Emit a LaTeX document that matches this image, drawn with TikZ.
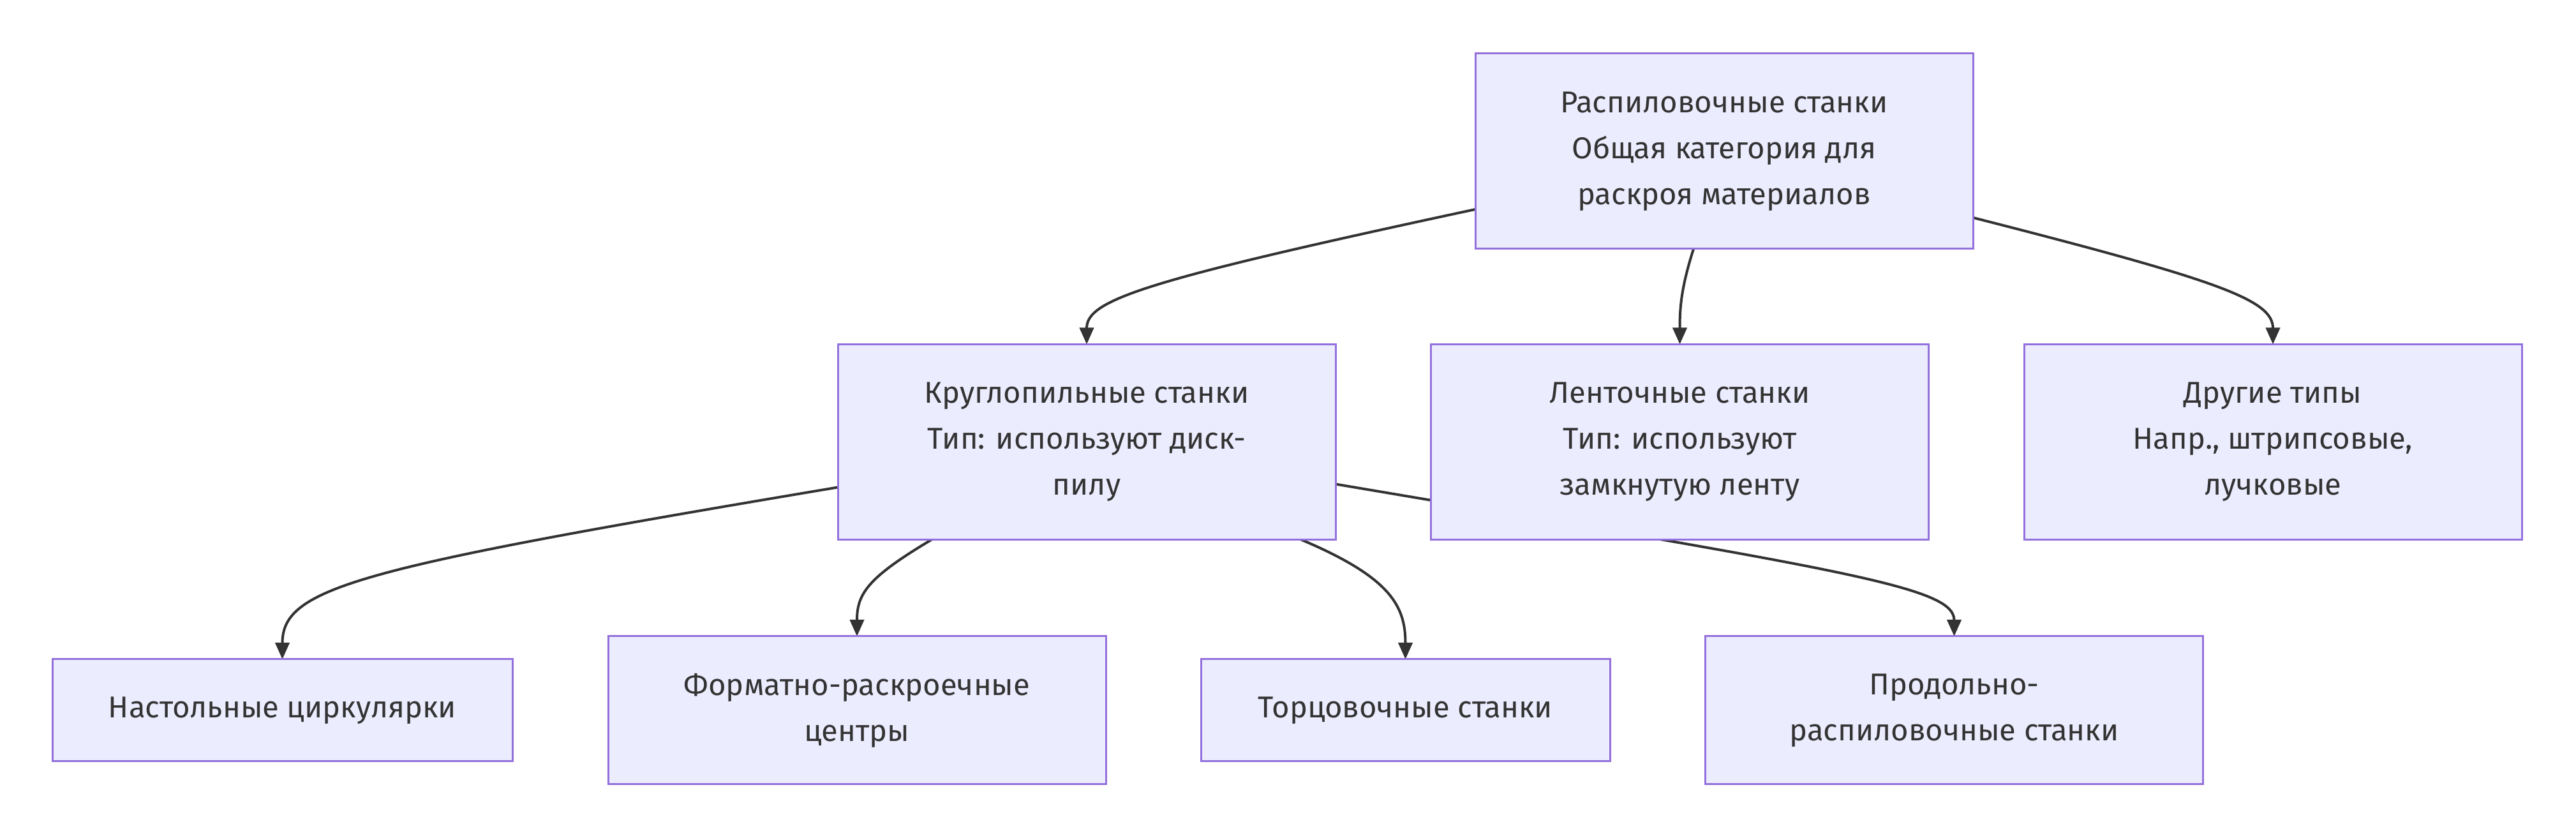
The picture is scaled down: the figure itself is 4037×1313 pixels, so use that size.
\documentclass[tikz,border=0pt]{standalone}
\usepackage{fontspec}
\setmainfont{Fira Sans}
\usetikzlibrary{arrows.meta,calc}
\pgfdeclarelayer{edges}
\pgfsetlayers{edges,main}
\definecolor{boxfill}{HTML}{ECECFF}
\definecolor{boxline}{HTML}{9370DB}
\definecolor{txt}{HTML}{333333}
\definecolor{edge}{HTML}{333333}
\begin{document}
\begin{tikzpicture}[x=0.25pt,y=-0.25pt,
  box/.style={draw=boxline,fill=boxfill,line width=0.75pt,text=txt,align=center,
    inner sep=0pt,outer sep=0pt,font=\fontsize{11.8}{18}\selectfont},
  bigbox/.style={box,minimum width=195pt,minimum height=76.5pt},
  midbox/.style={box,minimum width=195pt,minimum height=58pt},
  conn/.style={draw=edge,line width=1pt,-{Triangle[length=6.5pt,width=5.5pt]}}]
\useasboundingbox (0,0) rectangle (4037,1313);
\node[bigbox] (top) at (2702,237) {Распиловочные станки\\Общая категория для\\ раскроя материалов};
\node[bigbox] (circ) at (1703,692.5) {Круглопильные станки\\Тип: используют диск-\\пилу};
\node[bigbox] (band) at (2632.5,692.5) {Ленточные станки\\Тип: используют\\ замкнутую ленту};
\node[bigbox] (other) at (3562,692.5) {Другие типы\\Напр., штрипсовые,\\лучковые};
\node[box,minimum width=180.25pt,minimum height=40pt] (tab) at (442.5,1113) {Настольные циркулярки};
\node[midbox] (form) at (1343,1113) {Форматно-раскроечные\\центры};
\node[box,minimum width=160.25pt,minimum height=40pt] (tor) at (2202.5,1113) {Торцовочные станки};
\node[midbox] (prod) at (3062.5,1113) {Продольно-\\распиловочные станки};
\begin{pgfonlayer}{edges}
\draw[conn] ($(top.west)+(0,91)$) .. controls (1790,440) and (1703,470) .. (circ.north);
\draw[conn] ($(top.south)+(-48,0)$) .. controls (2635,450) and (2632.5,480) .. (band.north);
\draw[conn] ($(top.east)+(0,104)$) .. controls (3480,440) and (3562,470) .. (other.north);
\draw[conn] ($(circ.west)+(0,71)$) .. controls (560,890) and (442.5,920) .. (tab.north);
\draw[conn] ($(circ.south)+(-243,0)$) .. controls (1360,905) and (1343,930) .. (form.north);
\draw[conn] ($(circ.south)+(336,0)$) .. controls (2180,905) and (2202.5,950) .. (tor.north);
\draw[conn] ($(circ.east)+(0,66)$) .. controls (2900,895) and (3062.5,920) .. (prod.north);
\end{pgfonlayer}
\end{tikzpicture}
\end{document}
